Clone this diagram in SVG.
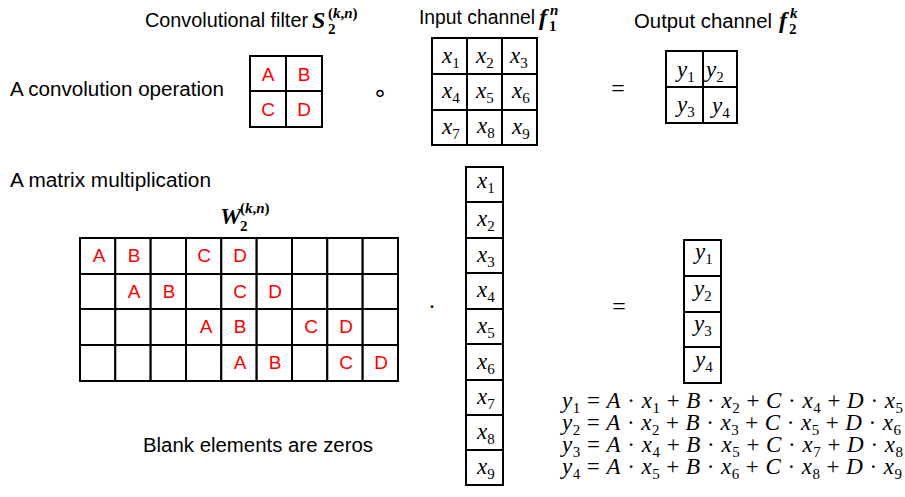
<svg xmlns="http://www.w3.org/2000/svg" width="905" height="497" viewBox="0 0 905 497">
<style>
.c{fill:#fff;stroke:#000;stroke-width:2}
.t{font-family:"Liberation Sans",Arial,sans-serif;font-size:19.5px;fill:#000}
.r{font-family:"Liberation Sans",Arial,sans-serif;font-size:19px;fill:#f00;text-anchor:middle}
.m{font-family:"Liberation Serif","Times New Roman",serif;font-size:23px;font-style:italic;fill:#000}
.s{font-style:normal;font-size:15px}
.b{font-family:"Liberation Serif","Times New Roman",serif;font-weight:bold;font-style:italic;font-size:24px;fill:#000}
.bs{font-size:15px;font-style:normal}
.bi{font-size:15px;font-style:italic}
.eq{font-family:"Liberation Serif","Times New Roman",serif;font-size:23px;fill:#000}
.i{font-style:italic}
.op{font-family:"Liberation Serif","Times New Roman",serif;font-size:24px;fill:#000;text-anchor:middle}
</style>
<g id="connectors"/>
<g id="labels">
<text class="t" x="145" y="27" textLength="163" lengthAdjust="spacingAndGlyphs">Convolutional filter</text>
<text class="b" x="312" y="28">S</text>
<text class="b" x="328" y="18"><tspan class="bs">(</tspan><tspan class="bi">k</tspan><tspan class="bs">,</tspan><tspan class="bi">n</tspan><tspan class="bs">)</tspan></text>
<text class="b" x="328" y="34"><tspan class="bs">2</tspan></text>
<text class="t" x="419" y="24" textLength="116" lengthAdjust="spacingAndGlyphs">Input channel</text>
<text class="b" x="539" y="25">f</text>
<text class="b" x="550" y="15"><tspan class="bi">n</tspan></text>
<text class="b" x="549" y="31"><tspan class="bs">1</tspan></text>
<text class="t" x="634" y="28" textLength="138" lengthAdjust="spacingAndGlyphs">Output channel</text>
<text class="b" x="779" y="28">f</text>
<text class="b" x="790" y="18"><tspan class="bi">k</tspan></text>
<text class="b" x="789" y="34"><tspan class="bs">2</tspan></text>
<text class="t" x="10" y="96" textLength="214" lengthAdjust="spacingAndGlyphs">A convolution operation</text>
<text class="t" x="10" y="187" textLength="201" lengthAdjust="spacingAndGlyphs">A matrix multiplication</text>
<text class="t" x="143" y="452" textLength="230" lengthAdjust="spacingAndGlyphs">Blank elements are zeros</text>
<text class="b" x="220" y="224">W</text>
<text class="b" x="240" y="213"><tspan class="bs">(</tspan><tspan class="bi">k</tspan><tspan class="bs">,</tspan><tspan class="bi">n</tspan><tspan class="bs">)</tspan></text>
<text class="b" x="240" y="231"><tspan class="bs">2</tspan></text>
<text x="380" y="101" style="font-family:'DejaVu Sans',sans-serif;font-size:24px;text-anchor:middle">∘</text>
<text class="op" x="432" y="314">·</text>
<text class="op" x="618" y="96">=</text>
<text class="op" x="619" y="314">=</text>
</g>
<g id="filter">
<rect class="c" x="250" y="56" width="36" height="35"/><rect class="c" x="286" y="56" width="36" height="35"/>
<rect class="c" x="250" y="91" width="36" height="36"/><rect class="c" x="286" y="91" width="36" height="36"/>
<text class="r" x="268" y="81">A</text><text class="r" x="304" y="81">B</text>
<text class="r" x="268" y="116">C</text><text class="r" x="304" y="116">D</text>
</g>
<g id="input">
<rect class="c" x="432" y="38" width="35" height="36"/><rect class="c" x="467" y="38" width="35" height="36"/><rect class="c" x="502" y="38" width="35" height="36"/>
<rect class="c" x="432" y="74" width="35" height="36"/><rect class="c" x="467" y="74" width="35" height="36"/><rect class="c" x="502" y="74" width="35" height="36"/>
<rect class="c" x="432" y="110" width="35" height="35"/><rect class="c" x="467" y="110" width="35" height="35"/><rect class="c" x="502" y="110" width="35" height="35"/>
<text class="m" x="442" y="63">x<tspan class="s" dy="5">1</tspan></text>
<text class="m" x="476" y="63">x<tspan class="s" dy="5">2</tspan></text>
<text class="m" x="510" y="63">x<tspan class="s" dy="5">3</tspan></text>
<text class="m" x="442" y="98">x<tspan class="s" dy="5">4</tspan></text>
<text class="m" x="476" y="98">x<tspan class="s" dy="5">5</tspan></text>
<text class="m" x="512" y="98">x<tspan class="s" dy="5">6</tspan></text>
<text class="m" x="442" y="134">x<tspan class="s" dy="5">7</tspan></text>
<text class="m" x="477" y="133">x<tspan class="s" dy="5">8</tspan></text>
<text class="m" x="512" y="134">x<tspan class="s" dy="5">9</tspan></text>
</g>
<g id="output">
<rect class="c" x="666" y="51" width="37" height="36"/><rect class="c" x="703" y="51" width="34" height="36"/>
<rect class="c" x="666" y="87" width="37" height="36"/><rect class="c" x="703" y="87" width="34" height="36"/>
<text class="m" x="677" y="77">y<tspan class="s" dy="5">1</tspan></text>
<text class="m" x="706" y="77">y<tspan class="s" dy="5">2</tspan></text>
<text class="m" x="677" y="112">y<tspan class="s" dy="5">3</tspan></text>
<text class="m" x="712" y="113">y<tspan class="s" dy="5">4</tspan></text>
</g>
<g id="W">
<g class="c">
<rect x="80" y="238" width="35.3" height="36"/><rect x="115.3" y="238" width="35.3" height="36"/><rect x="150.7" y="238" width="35.3" height="36"/><rect x="186" y="238" width="35.3" height="36"/><rect x="221.3" y="238" width="35.3" height="36"/><rect x="256.7" y="238" width="35.3" height="36"/><rect x="292" y="238" width="35.3" height="36"/><rect x="327.3" y="238" width="35.3" height="36"/><rect x="362.7" y="238" width="35.3" height="36"/>
<rect x="80" y="274" width="35.3" height="35"/><rect x="115.3" y="274" width="35.3" height="35"/><rect x="150.7" y="274" width="35.3" height="35"/><rect x="186" y="274" width="35.3" height="35"/><rect x="221.3" y="274" width="35.3" height="35"/><rect x="256.7" y="274" width="35.3" height="35"/><rect x="292" y="274" width="35.3" height="35"/><rect x="327.3" y="274" width="35.3" height="35"/><rect x="362.7" y="274" width="35.3" height="35"/>
<rect x="80" y="309" width="35.3" height="36"/><rect x="115.3" y="309" width="35.3" height="36"/><rect x="150.7" y="309" width="35.3" height="36"/><rect x="186" y="309" width="35.3" height="36"/><rect x="221.3" y="309" width="35.3" height="36"/><rect x="256.7" y="309" width="35.3" height="36"/><rect x="292" y="309" width="35.3" height="36"/><rect x="327.3" y="309" width="35.3" height="36"/><rect x="362.7" y="309" width="35.3" height="36"/>
<rect x="80" y="345" width="35.3" height="36"/><rect x="115.3" y="345" width="35.3" height="36"/><rect x="150.7" y="345" width="35.3" height="36"/><rect x="186" y="345" width="35.3" height="36"/><rect x="221.3" y="345" width="35.3" height="36"/><rect x="256.7" y="345" width="35.3" height="36"/><rect x="292" y="345" width="35.3" height="36"/><rect x="327.3" y="345" width="35.3" height="36"/><rect x="362.7" y="345" width="35.3" height="36"/>
</g>
<text class="r" x="99" y="262">A</text><text class="r" x="134" y="262">B</text><text class="r" x="204" y="262">C</text><text class="r" x="240" y="262">D</text>
<text class="r" x="134" y="298">A</text><text class="r" x="169" y="298">B</text><text class="r" x="240" y="298">C</text><text class="r" x="275" y="298">D</text>
<text class="r" x="206" y="333">A</text><text class="r" x="240" y="333">B</text><text class="r" x="311" y="333">C</text><text class="r" x="346" y="333">D</text>
<text class="r" x="240" y="369">A</text><text class="r" x="275" y="369">B</text><text class="r" x="346" y="369">C</text><text class="r" x="381" y="369">D</text>
</g>
<g id="xvec">
<g class="c">
<rect x="466" y="167" width="37" height="35"/><rect x="466" y="202" width="37" height="36"/><rect x="466" y="238" width="37" height="35"/><rect x="466" y="273" width="37" height="36"/><rect x="466" y="309" width="37" height="35"/><rect x="466" y="344" width="37" height="36"/><rect x="466" y="380" width="37" height="35"/><rect x="466" y="415" width="37" height="35"/><rect x="466" y="450" width="37" height="35"/>
</g>
<text class="m" x="477" y="188">x<tspan class="s" dy="5">1</tspan></text>
<text class="m" x="477" y="226">x<tspan class="s" dy="5">2</tspan></text>
<text class="m" x="477" y="262">x<tspan class="s" dy="5">3</tspan></text>
<text class="m" x="477" y="297">x<tspan class="s" dy="5">4</tspan></text>
<text class="m" x="477" y="333">x<tspan class="s" dy="5">5</tspan></text>
<text class="m" x="477" y="369">x<tspan class="s" dy="5">6</tspan></text>
<text class="m" x="477" y="404">x<tspan class="s" dy="5">7</tspan></text>
<text class="m" x="477" y="439">x<tspan class="s" dy="5">8</tspan></text>
<text class="m" x="477" y="474">x<tspan class="s" dy="5">9</tspan></text>
</g>
<g id="yvec">
<g class="c">
<rect x="684" y="240" width="37" height="36"/><rect x="684" y="276" width="37" height="36"/><rect x="684" y="312" width="37" height="35"/><rect x="684" y="347" width="37" height="36"/>
</g>
<text class="m" x="695" y="259">y<tspan class="s" dy="5">1</tspan></text>
<text class="m" x="694" y="296">y<tspan class="s" dy="5">2</tspan></text>
<text class="m" x="694" y="331">y<tspan class="s" dy="5">3</tspan></text>
<text class="m" x="695" y="367">y<tspan class="s" dy="5">4</tspan></text>
</g>
<g id="equations">
<text class="eq" x="562" y="408" textLength="341" lengthAdjust="spacing"><tspan class="i">y</tspan><tspan class="s" dy="5">1</tspan><tspan dy="-5"> = </tspan><tspan class="i">A</tspan> · <tspan class="i">x</tspan><tspan class="s" dy="5">1</tspan><tspan dy="-5"> + </tspan><tspan class="i">B</tspan> · <tspan class="i">x</tspan><tspan class="s" dy="5">2</tspan><tspan dy="-5"> + </tspan><tspan class="i">C</tspan> · <tspan class="i">x</tspan><tspan class="s" dy="5">4</tspan><tspan dy="-5"> + </tspan><tspan class="i">D</tspan> · <tspan class="i">x</tspan><tspan class="s" dy="5">5</tspan></text>
<text class="eq" x="562" y="430" textLength="339" lengthAdjust="spacing"><tspan class="i">y</tspan><tspan class="s" dy="5">2</tspan><tspan dy="-5"> = </tspan><tspan class="i">A</tspan> · <tspan class="i">x</tspan><tspan class="s" dy="5">2</tspan><tspan dy="-5"> + </tspan><tspan class="i">B</tspan> · <tspan class="i">x</tspan><tspan class="s" dy="5">3</tspan><tspan dy="-5"> + </tspan><tspan class="i">C</tspan> · <tspan class="i">x</tspan><tspan class="s" dy="5">5</tspan><tspan dy="-5"> + </tspan><tspan class="i">D</tspan> · <tspan class="i">x</tspan><tspan class="s" dy="5">6</tspan></text>
<text class="eq" x="562" y="452" textLength="341" lengthAdjust="spacing"><tspan class="i">y</tspan><tspan class="s" dy="5">3</tspan><tspan dy="-5"> = </tspan><tspan class="i">A</tspan> · <tspan class="i">x</tspan><tspan class="s" dy="5">4</tspan><tspan dy="-5"> + </tspan><tspan class="i">B</tspan> · <tspan class="i">x</tspan><tspan class="s" dy="5">5</tspan><tspan dy="-5"> + </tspan><tspan class="i">C</tspan> · <tspan class="i">x</tspan><tspan class="s" dy="5">7</tspan><tspan dy="-5"> + </tspan><tspan class="i">D</tspan> · <tspan class="i">x</tspan><tspan class="s" dy="5">8</tspan></text>
<text class="eq" x="562" y="474" textLength="340" lengthAdjust="spacing"><tspan class="i">y</tspan><tspan class="s" dy="5">4</tspan><tspan dy="-5">  = </tspan><tspan class="i">A</tspan> · <tspan class="i">x</tspan><tspan class="s" dy="5">5</tspan><tspan dy="-5"> + </tspan><tspan class="i">B</tspan> · <tspan class="i">x</tspan><tspan class="s" dy="5">6</tspan><tspan dy="-5"> + </tspan><tspan class="i">C</tspan> · <tspan class="i">x</tspan><tspan class="s" dy="5">8</tspan><tspan dy="-5"> + </tspan><tspan class="i">D</tspan> · <tspan class="i">x</tspan><tspan class="s" dy="5">9</tspan></text>
</g>
</svg>
